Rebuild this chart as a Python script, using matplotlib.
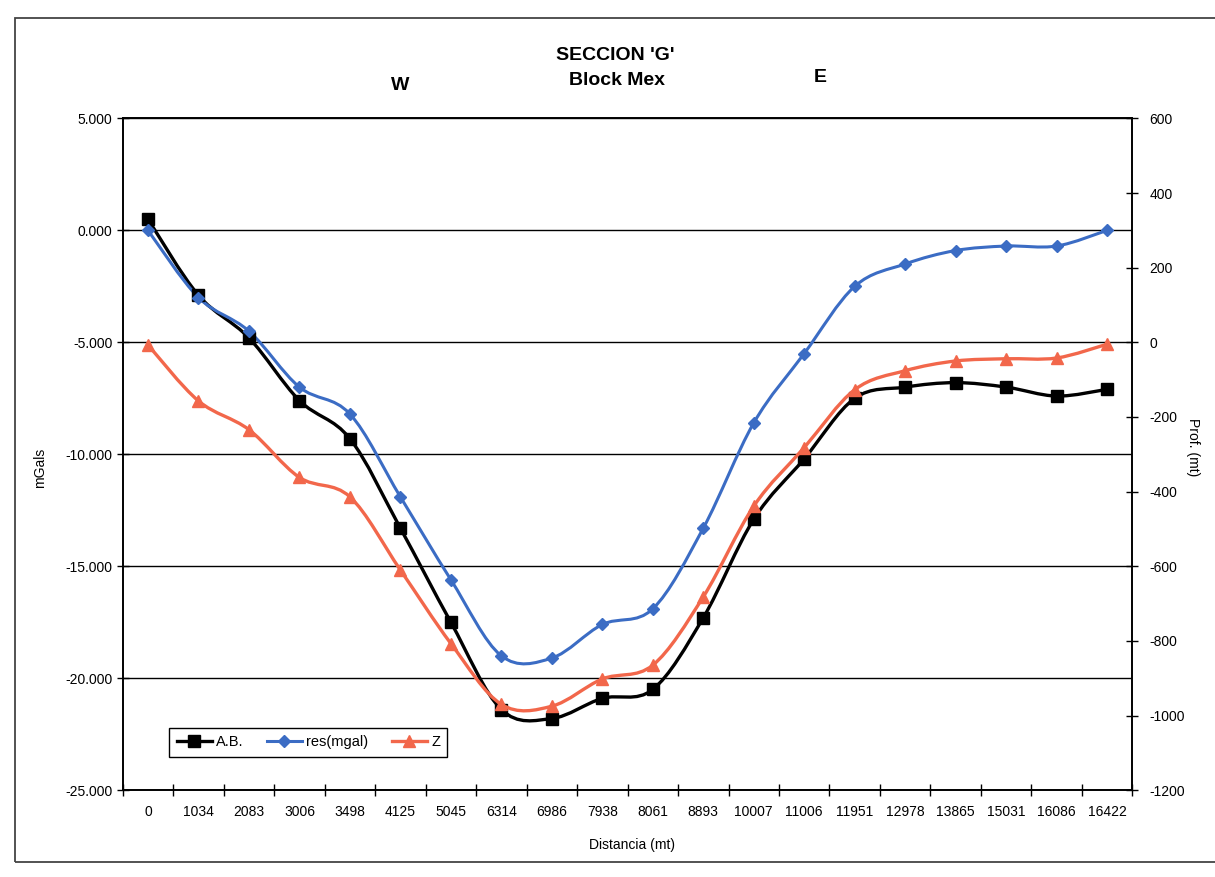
import numpy as np
import matplotlib
matplotlib.use('Agg')
import matplotlib.pyplot as plt
from matplotlib.path import Path
from matplotlib.patches import PathPatch, Rectangle
from matplotlib.lines import Line2D
from matplotlib.ticker import FixedLocator, FuncFormatter

plt.rcParams['font.family'] = ['Liberation Sans', 'DejaVu Sans']
plt.rcParams['axes.unicode_minus'] = False

# categorias del eje X (distancia en mt)
dist = ['0', '1034', '2083', '3006', '3498', '4125', '5045', '6314', '6986', '7938',
        '8061', '8893', '10007', '11006', '11951', '12978', '13865', '15031', '16086', '16422']

# anomalia de Bouguer (mGal)
ab = [0.5, -2.9, -4.8, -7.6, -9.3, -13.3, -17.5, -21.4, -21.8, -20.9,
      -20.5, -17.3, -12.9, -10.2, -7.5, -7.0, -6.8, -7.0, -7.4, -7.1]
# residual (mGal)
res = [0.0, -3.0, -4.5, -7.0, -8.2, -11.9, -15.6, -19.0, -19.1, -17.6,
       -16.9, -13.3, -8.6, -5.5, -2.5, -1.5, -0.9, -0.7, -0.7, 0.0]
# profundidad Z (mt), eje derecho
z = [-7, -157, -234, -362, -414, -610, -807, -970, -975, -902,
     -865, -682, -439, -282, -127, -76, -50, -44, -42, -5]

c_ab = 'black'
c_res = '#3b6cc4'
c_z = '#f2674b'


def smooth_path(xs, ys):
    # curva suave tipo excel (bezier por catmull-rom)
    pts = np.column_stack([xs, ys]).astype(float)
    n = len(pts)
    verts = [pts[0]]
    codes = [Path.MOVETO]
    for i in range(n - 1):
        p0 = pts[i - 1] if i > 0 else pts[i]
        p1 = pts[i]
        p2 = pts[i + 1]
        p3 = pts[i + 2] if i + 2 < n else pts[i + 1]
        verts += [p1 + (p2 - p0) / 6, p2 - (p3 - p1) / 6, p2]
        codes += [Path.CURVE4] * 3
    return Path(verts, codes)


fig = plt.figure(figsize=(12.15, 8.77), dpi=100)
fig.add_artist(Rectangle((0.012, 0.017), 1.0, 0.962, transform=fig.transFigure,
                         fill=False, edgecolor='#444444', lw=1.3))

ax = fig.add_axes([0.101, 0.099, 0.831, 0.766])
ax2 = ax.twinx()

xs = np.arange(len(dist))

# series
ax.add_patch(PathPatch(smooth_path(xs, ab), fill=False, edgecolor=c_ab, lw=2.4, zorder=3))
ax.plot(xs, ab, ls='none', marker='s', ms=8, color=c_ab, zorder=4)
ax.add_patch(PathPatch(smooth_path(xs, res), fill=False, edgecolor=c_res, lw=2.2, zorder=3))
ax.plot(xs, res, ls='none', marker='D', ms=6.5, color=c_res, zorder=4)
ax2.add_patch(PathPatch(smooth_path(xs, z), fill=False, edgecolor=c_z, lw=2.4, zorder=3))
ax2.plot(xs, z, ls='none', marker='^', ms=8, color=c_z, zorder=4)

# eje X
ax.set_xlim(-0.5, len(dist) - 0.5)
ax.xaxis.set_major_locator(FixedLocator(np.arange(-0.5, len(dist))))
ax.xaxis.set_major_formatter(FuncFormatter(lambda v, p: ''))
ax.xaxis.set_minor_locator(FixedLocator(xs))
ax.set_xticklabels(dist, minor=True)
ax.tick_params(axis='x', which='major', direction='inout', length=9, width=1)
ax.tick_params(axis='x', which='minor', length=0, pad=11, labelsize=10)
ax.set_xlabel('Distancia (mt)', fontsize=10)
ax.xaxis.set_label_coords(0.504, -0.071)

# eje Y izquierdo
ax.set_ylim(-25, 5)
ax.set_yticks(np.arange(-25, 6, 5))
ax.yaxis.set_major_formatter(FuncFormatter(lambda v, p: '%.3f' % v))
ax.tick_params(axis='y', direction='inout', length=9, width=1, labelsize=10, pad=3)
ax.set_ylabel('mGals', fontsize=10)
ax.yaxis.set_label_coords(-0.075, 0.48)
ax.grid(axis='y', color='black', lw=1)
ax.set_axisbelow(True)

# eje Y derecho
ax2.set_ylim(-1200, 600)
ax2.set_yticks(np.arange(-1200, 601, 200))
ax2.tick_params(axis='y', direction='inout', length=9, width=1, labelsize=10, pad=8)
ax2.set_ylabel('Prof. (mt)', fontsize=10, rotation=270, va='center')
ax2.yaxis.set_label_coords(1.06, 0.51)

for a in (ax, ax2):
    for s in a.spines.values():
        s.set_linewidth(1.2)
        s.set_color('black')

# titulo
fig.text(0.506, 0.937, "SECCION 'G'", ha='center', va='center', fontsize=14, fontweight='bold')
fig.text(0.508, 0.908, 'Block Mex', ha='center', va='center', fontsize=14, fontweight='bold')
fig.text(0.329, 0.903, 'W', ha='center', va='center', fontsize=14, fontweight='bold')
fig.text(0.675, 0.912, 'E', ha='center', va='center', fontsize=14, fontweight='bold')

# leyenda
handles = [
    Line2D([], [], color=c_ab, lw=2.4, marker='s', ms=8),
    Line2D([], [], color=c_res, lw=2.2, marker='D', ms=6.5),
    Line2D([], [], color=c_z, lw=2.4, marker='^', ms=8),
]
leg = ax2.legend(handles, ['A.B.', 'res(mgal)', 'Z'], loc='lower left',
                 bbox_to_anchor=(0.039, 0.039), ncol=3, fontsize=10.5,
                 frameon=True, fancybox=False, edgecolor='black', framealpha=1,
                 handlelength=2.4, handletextpad=0.3, columnspacing=1.6,
                 borderpad=0.5)
leg.get_frame().set_linewidth(1)

fig.savefig('out.png', dpi=100)
